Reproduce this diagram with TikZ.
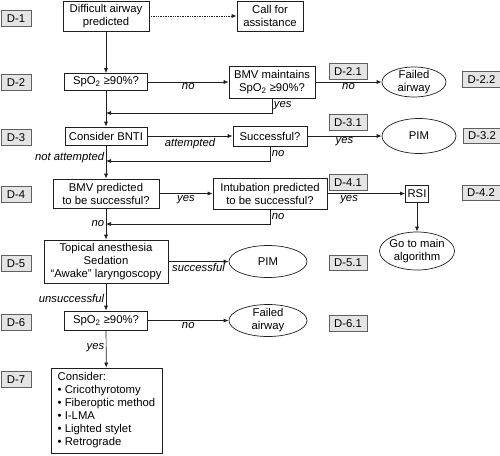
\documentclass[tikz,border=0pt]{standalone}
\usepackage{fontspec}
\setmainfont{Liberation Sans}
\usepackage{xcolor}
\usepackage{tikz}
\usetikzlibrary{arrows.meta,shapes.geometric}
\definecolor{primary}{RGB}{30, 30, 30}
\definecolor{tagfill}{RGB}{228, 228, 228}
\definecolor{tagline}{RGB}{95, 95, 95}

\begin{document}
\begin{tikzpicture}[x=1pt,y=-1pt,
  every node/.style={font=\fontsize{11.3}{13}\selectfont},
  box/.style={draw=primary,line width=0.7pt,align=center,inner sep=0pt},
  oval/.style={draw=primary,line width=0.7pt,ellipse,align=center,inner sep=-1pt},
  tag/.style={draw=tagline,fill=tagfill,line width=0.6pt,minimum width=30pt,minimum height=16.5pt,inner sep=0pt},
  subtag/.style={tag,minimum width=38pt,minimum height=15.5pt},
  lbl/.style={font=\fontsize{11.3}{13}\selectfont\itshape,inner sep=1.5pt},
  flow/.style={draw=primary,line width=0.7pt,-{Latex[length=5pt,width=4pt]}}]
\useasboundingbox (0,0) rectangle (500,455);
% step tags
\node[tag] (d1) at (16,18.5) {D-1};
\node[tag] (d2) at (16,82.5) {D-2};
\node[tag] (d3) at (16,137.5) {D-3};
\node[tag] (d4) at (16,194.5) {D-4};
\node[tag] (d5) at (16,263.5) {D-5};
\node[tag] (d6) at (16,322.5) {D-6};
\node[tag] (d7) at (16,379.5) {D-7};
\node[subtag] (d21) at (348,71.5) {D-2.1};
\node[subtag] (d22) at (481.5,79.5) {D-2.2};
\node[subtag] (d31) at (348,122.5) {D-3.1};
\node[subtag] (d32) at (482,136) {D-3.2};
\node[subtag] (d41) at (348,182.5) {D-4.1};
\node[subtag] (d42) at (481,193) {D-4.2};
\node[subtag] (d51) at (348,263) {D-5.1};
\node[subtag] (d61) at (348,323.5) {D-6.1};
% main column
\node[box,minimum width=86pt,minimum height=30pt] (diff) at (106,16) {Difficult airway\\predicted};
\node[box,minimum width=83pt,minimum height=17pt] (spoA) at (106,82) {SpO\textsubscript{2} ≥90\%?};
\node[box,minimum width=82pt,minimum height=18pt] (bnti) at (106,136) {Consider BNTI};
\node[box,minimum width=106pt,minimum height=29pt] (bmvp) at (106,193.5) {BMV predicted\\to be successful?};
\node[box,minimum width=124pt,minimum height=43pt] (topic) at (106,261.5) {Topical anesthesia\\Sedation\\“Awake” laryngoscopy};
\node[box,minimum width=83pt,minimum height=19pt] (spoB) at (106,320.5) {SpO\textsubscript{2} ≥90\%?};
\node[box,minimum width=111pt,minimum height=85pt,align=left] (cons) at (106.5,410.5) {Consider:\\\textbullet\ Cricothyrotomy\\\textbullet\ Fiberoptic method\\\textbullet\ I-LMA\\\textbullet\ Lighted stylet\\\textbullet\ Retrograde};
% side column
\node[box,minimum width=66pt,minimum height=30pt] (call) at (270,16) {Call for\\assistance};
\node[box,minimum width=86pt,minimum height=32pt] (bmv) at (272,82) {BMV maintains\\SpO\textsubscript{2} ≥90\%?};
\node[box,minimum width=74pt,minimum height=20pt] (succ) at (270,136) {Successful?};
\node[box,minimum width=114pt,minimum height=31pt] (intub) at (270,193.5) {Intubation predicted\\to be successful?};
\node[oval,minimum width=78pt,minimum height=32pt] (pimB) at (268,261.5) {PIM};
\node[oval,minimum width=78pt,minimum height=32pt,inner ysep=-3pt] (failB) at (268,320.5) {Failed\\airway};
% outcomes
\node[oval,minimum width=64pt,minimum height=30pt,inner ysep=-3pt] (failA) at (414,82) {Failed\\airway};
\node[oval,minimum width=74pt,minimum height=35pt] (pimA) at (419,136) {PIM};
\node[box,minimum width=23pt,minimum height=17pt] (rsi) at (417,193.5) {RSI};
\node[oval,minimum width=75pt,minimum height=38pt,inner xsep=-5pt,inner ysep=-3pt] (main) at (417,251) {Go to main\\algorithm};
% joins
\coordinate (j1) at (106,113);
\coordinate (j2) at (106,161);
\coordinate (j3) at (106,224);
% connectors
\draw[flow,densely dotted] (diff) -- (call);
\draw[flow] (diff) -- (spoA);
\draw[flow] (spoA) -- node[lbl,below] (n1) {no} (bmv);
\draw[flow] (bmv) -- node[lbl,below] (n2) {no} (failA);
\draw[flow] (bmv.south) |- node[lbl,pos=0.25,right] (y1) {yes} (j1);
\draw[flow] (spoA) -- (bnti);
\draw[flow] (bnti) -- node[lbl,below] (a1) {attempted} (succ);
\draw[flow] (succ) -- node[lbl,below] (y2) {yes} (pimA);
\draw[flow] (succ.south) |- node[lbl,pos=0.25,right] (n3) {no} (j2);
\draw[flow] (bnti) -- node[lbl,pos=0.38,left] (na) {not attempted} (bmvp);
\draw[flow] (bmvp) -- node[lbl,below] (y3) {yes} (intub);
\draw[flow] (intub) -- node[lbl,pos=0.28,below] (y4) {yes} (rsi);
\draw[flow] (rsi) -- (main);
\draw[flow] (intub.south) |- node[lbl,pos=0.25,right] (n4) {no} (j3);
\draw[flow] (bmvp) -- node[lbl,pos=0.47,left] (n5) {no} (topic);
\draw[flow] (topic.east |- pimB.west) -- node[lbl,below] (s1) {successful} (pimB);
\draw[flow] (topic) -- node[lbl,pos=0.57,left] (u1) {unsuccessful} (spoB);
\draw[flow] (spoB) -- node[lbl,below] (n6) {no} (failB);
\draw[flow] (spoB) -- node[lbl,pos=0.47,left] (y5) {yes} (cons);
\end{tikzpicture}
\end{document}
